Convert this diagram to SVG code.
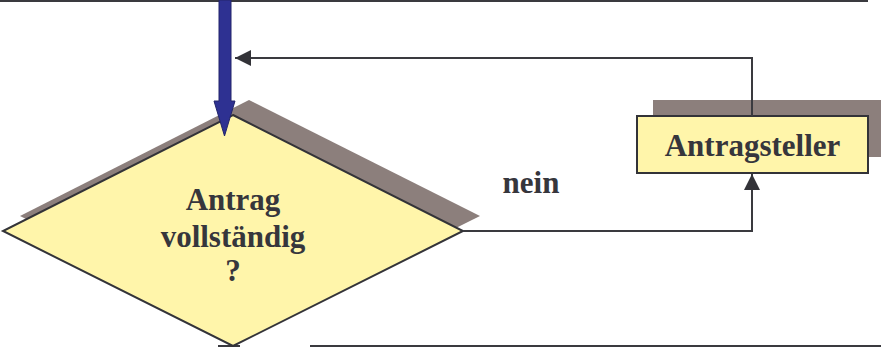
<svg xmlns="http://www.w3.org/2000/svg" width="881" height="347" viewBox="0 0 881 347">
<style>
.shadow{fill:#8c7f7c}
.node{fill:#fff5aa;stroke:#333338;stroke-width:2}
.lbl{font-family:"Liberation Serif","Times New Roman",serif;font-weight:bold;font-size:31px;fill:#36363c;text-anchor:middle}
.conn{fill:none;stroke:#3a3a3f;stroke-width:2}
.rule{stroke:#3a3a3f;stroke-width:2}
</style>
<defs>
<marker id="ah" markerWidth="16" markerHeight="16" viewBox="0 0 16 16" refX="16" refY="8" orient="auto" markerUnits="userSpaceOnUse">
<path d="M0,0 L16,8 L0,16 Z" fill="#333338"/>
</marker>
</defs>
<rect width="881" height="347" fill="#ffffff"/>
<line class="rule" x1="0" y1="1" x2="868" y2="1"/>
<line class="rule" x1="310" y1="346" x2="881" y2="346"/>
<line class="rule" x1="218" y1="346" x2="240" y2="346"/>
<g id="decision">
<polygon class="shadow" points="249,100 480,216 249,331 20,216"/>
<polygon class="node" points="233,115 463,231 233,346 3,231"/>
<text class="lbl" x="233" y="210">Antrag</text>
<text class="lbl" x="233" y="247">vollständig</text>
<text class="lbl" x="233" y="281">?</text>
</g>
<g id="antragsteller">
<rect class="shadow" x="653" y="100" width="240" height="57"/>
<rect class="node" x="637" y="116" width="231" height="57"/>
<text class="lbl" x="752.5" y="156">Antragsteller</text>
</g>
<g id="connectors">
<path class="conn" d="M463,231 H752 V174" marker-end="url(#ah)"/>
<path class="conn" d="M752,116 V58 H235" marker-end="url(#ah)"/>
<path d="M219,0 H231 V101 H235 L224.5,136 L214,101 H219 Z" fill="#2e3192" stroke="#22256a" stroke-width="1"/>
<text class="lbl" x="531" y="193">nein</text>
</g>
</svg>
